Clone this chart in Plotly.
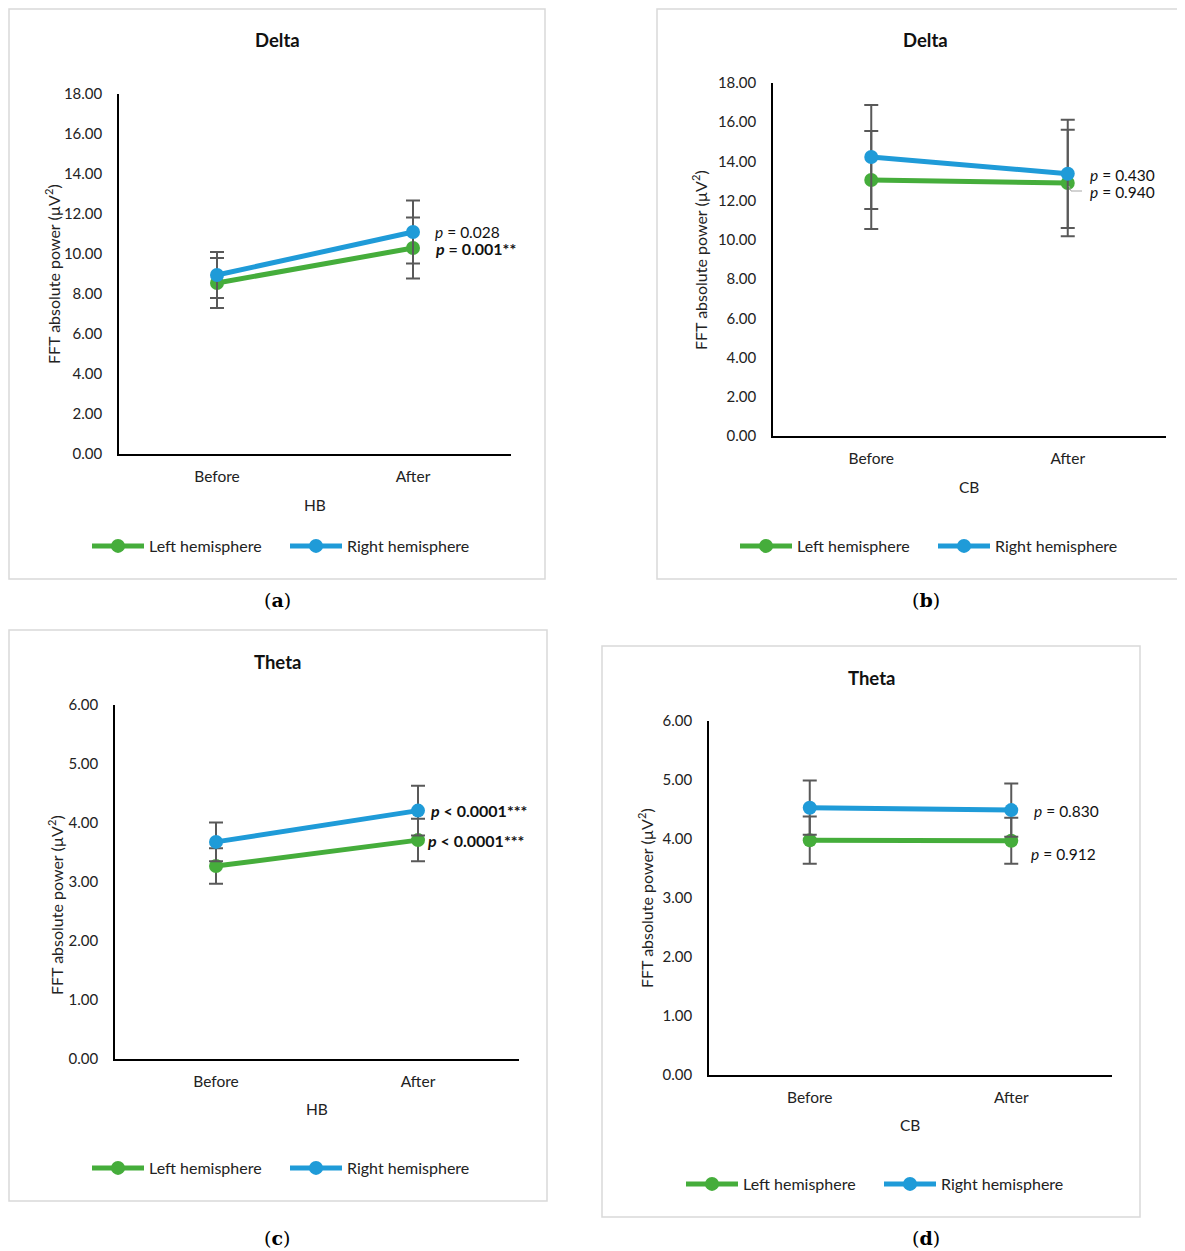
import plotly.graph_objects as go

# ---------------- data ----------------
categories = ["Before", "After"]

a_left = [8.55, 10.30]
a_left_err = [1.25, 1.52]
a_right = [8.95, 11.10]
a_right_err = [1.15, 1.57]

b_left = [13.05, 12.90]
b_left_err = [2.50, 2.72]
b_right = [14.23, 13.37]
b_right_err = [2.65, 2.76]

c_left = [3.27, 3.71]
c_left_err = [0.30, 0.36]
c_right = [3.68, 4.21]
c_right_err = [0.33, 0.42]

d_left = [3.98, 3.97]
d_left_err = [0.40, 0.39]
d_right = [4.53, 4.49]
d_right_err = [0.46, 0.45]

series_names = ["Left hemisphere", "Right hemisphere"]
titles = ["Delta", "Delta", "Theta", "Theta"]
group_labels = ["HB", "CB", "HB", "CB"]
panel_letters = ["a", "b", "c", "d"]
y_title = "FFT absolute power (µV<sup>2</sup>)"

p_a = ["<i>p</i> = 0.028", "<b><i>p</i> = 0.001**</b>"]
p_b = ["<i>p</i> = 0.430", "<i>p</i> = 0.940"]
p_c = ["<b><i>p</i> &lt; 0.0001***</b>", "<b><i>p</i> &lt; 0.0001***</b>"]
p_d = ["<i>p</i> = 0.830", "<i>p</i> = 0.912"]

# ---------------- layout helpers ----------------
OFF = 8                      # page body margin
W, H = 1185 - OFF, 1251 - OFF
GREEN = "#45AD3B"
BLUE = "#1F9BD8"
ERR = "#595959"
FONT = "Lato"
LEG_PAD = 5


def fx(px):
    return (px - OFF) / W


def fy(py):
    return 1 - (py - OFF) / H


panels = [
    dict(box=(9, 9, 545, 579), x=(119, 511), y=(454, 94), rng=18, dt=2,
         left=a_left, le=a_left_err, right=a_right, re=a_right_err,
         title_xy=(277, 40), ytitle_xy=(52, 274), grp_xy=(315, 505),
         leg_xy=(92, 546), letter_xy=(277, 600), p=p_a,
         p_pos=[(433, 232), (433, 249)]),
    dict(box=(657, 9, 1184, 579), x=(773, 1166), y=(436, 83), rng=18, dt=2,
         left=b_left, le=b_left_err, right=b_right, re=b_right_err,
         title_xy=(925, 40), ytitle_xy=(700, 260), grp_xy=(969, 487),
         leg_xy=(740, 546), letter_xy=(926, 600), p=p_b,
         p_pos=[(1088, 175), (1088, 192)]),
    dict(box=(9, 630, 547, 1201), x=(115, 519), y=(1059, 705), rng=6, dt=1,
         left=c_left, le=c_left_err, right=c_right, re=c_right_err,
         title_xy=(277, 662), ytitle_xy=(55, 905), grp_xy=(317, 1109),
         leg_xy=(92, 1168), letter_xy=(277, 1238), p=p_c,
         p_pos=[(428, 810), (425, 840)]),
    dict(box=(602, 646, 1140, 1217), x=(709, 1112), y=(1075, 721), rng=6, dt=1,
         left=d_left, le=d_left_err, right=d_right, re=d_right_err,
         title_xy=(871, 678), ytitle_xy=(645, 898), grp_xy=(910, 1125),
         leg_xy=(686, 1184), letter_xy=(926, 1238), p=p_d,
         p_pos=[(1032, 811), (1029, 854)]),
]

fig = go.Figure()
shapes = []
annotations = []
layout_extra = {}

for i, pn in enumerate(panels):
    k = "" if i == 0 else str(i + 1)
    xa, ya = "x" + k, "y" + k
    leg = "legend" + k
    for name, vals, errs, col in [(series_names[0], pn["left"], pn["le"], GREEN),
                                  (series_names[1], pn["right"], pn["re"], BLUE)]:
        fig.add_trace(go.Scatter(
            x=categories, y=vals, name=name, mode="lines+markers",
            line=dict(color=col, width=5), marker=dict(color=col, size=14),
            error_y=dict(type="data", array=errs, visible=True, color=ERR,
                         thickness=2, width=7),
            xaxis=xa, yaxis=ya, legend=leg, showlegend=True))

    layout_extra["xaxis" + k] = dict(
        domain=[fx(pn["x"][0]), fx(pn["x"][1])], anchor=ya,
        type="category", range=[-0.5, 1.5], showline=True, linecolor="#000000",
        linewidth=1.5, showgrid=False, zeroline=False, ticks="",
        tickfont=dict(family=FONT, size=15.5, color="#222"), ticklabelstandoff=8,
        fixedrange=True)
    layout_extra["yaxis" + k] = dict(
        domain=[fy(pn["y"][0]), fy(pn["y"][1])], anchor=xa,
        range=[0, pn["rng"]], dtick=pn["dt"], tick0=0, tickformat=".2f",
        showline=True, linecolor="#000000", linewidth=1.5, showgrid=False,
        zeroline=False, ticks="", ticklabelstandoff=12,
        tickfont=dict(family=FONT, size=15, color="#222"), fixedrange=True)
    layout_extra[leg] = dict(
        orientation="h", x=fx(pn["leg_xy"][0] - LEG_PAD), y=fy(pn["leg_xy"][1]),
        xanchor="left", yanchor="middle", xref="paper", yref="paper",
        font=dict(family=FONT, size=16, color="#222"), bgcolor="rgba(0,0,0,0)",
        itemwidth=52, tracegroupgap=0, entrywidth=131, entrywidthmode="pixels")

    # panel frame
    x0, y0, x1, y1 = pn["box"]
    shapes.append(dict(type="rect", xref="paper", yref="paper",
                       x0=fx(x0), x1=fx(x1), y0=fy(y1), y1=fy(y0),
                       line=dict(color="#D9D9D9", width=1.5), layer="below"))

    annotations.append(dict(text="<b>%s</b>" % titles[i], x=fx(pn["title_xy"][0]),
                            y=fy(pn["title_xy"][1]), xref="paper", yref="paper",
                            showarrow=False, font=dict(family=FONT, size=18.5, color="#111"),
                            xanchor="center", yanchor="middle"))
    annotations.append(dict(text=y_title, textangle=-90, x=fx(pn["ytitle_xy"][0]),
                            y=fy(pn["ytitle_xy"][1]), xref="paper", yref="paper",
                            showarrow=False, font=dict(family=FONT, size=16, color="#222"),
                            xanchor="center", yanchor="middle"))
    annotations.append(dict(text=group_labels[i], x=fx(pn["grp_xy"][0]),
                            y=fy(pn["grp_xy"][1]), xref="paper", yref="paper",
                            showarrow=False, font=dict(family=FONT, size=15.5, color="#222"),
                            xanchor="center", yanchor="middle"))
    annotations.append(dict(text="(<b>%s</b>)" % panel_letters[i], x=fx(pn["letter_xy"][0]),
                            y=fy(pn["letter_xy"][1]), xref="paper", yref="paper",
                            showarrow=False, font=dict(family="DejaVu Serif", size=19, color="#000"),
                            xanchor="center", yanchor="middle"))
    for txt, (px, py) in zip(pn["p"], pn["p_pos"]):
        size = 16 if txt.startswith("<b>") else 15.5
        annotations.append(dict(text=txt, x=fx(px), y=fy(py), xref="paper", yref="paper",
                                showarrow=False, font=dict(family=FONT, size=size, color="#111"),
                                xanchor="left", yanchor="middle"))

# small leader line in panel (b)
shapes.append(dict(type="line", xref="paper", yref="paper",
                   x0=fx(1069), y0=fy(186), x1=fx(1071), y1=fy(191),
                   line=dict(color="#A6A6A6", width=1)))
shapes.append(dict(type="line", xref="paper", yref="paper",
                   x0=fx(1071), y0=fy(191), x1=fx(1082), y1=fy(191),
                   line=dict(color="#A6A6A6", width=1)))

fig.update_layout(
    width=W, height=H, margin=dict(l=0, r=0, t=0, b=0, pad=0, autoexpand=False),
    paper_bgcolor="white", plot_bgcolor="white",
    shapes=shapes, annotations=annotations,
    font=dict(family=FONT, size=15, color="#222"),
    **layout_extra)

fig.write_html("out.html")
